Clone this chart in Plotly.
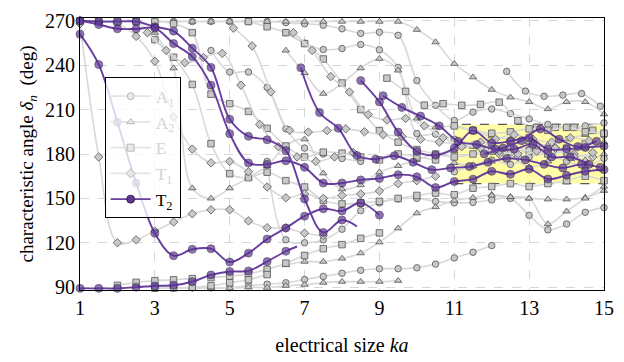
import numpy as np
import plotly.graph_objects as go

# ---------------- data ----------------
# each gray curve: (symbol, start ka, values every 0.5 in ka)
gray_curves = [
    # A1 (circles)
    ("circle", 3.0, [269.5, 269.5, 269.5, 269.5, 269.5, 269.5, 269.5, 268.75, 268, 267, 264.6, 261.5, 262.3, 260.2,
                     229.6, 212.9, 202.7, 208.3, 210.4, 207.3, 203.7, 200, 198, 199, 201]),
    ("circle", 6.5, [262, 254.8, 250.6, 251.25, 254, 250.4, 238.5, 193.8, 193.4, 190, 186, 182, 181, 183, 180, 182, 185, 192.7]),
    ("circle", 4.5, [250, 235.4, 235.4, 225, 197, 184, 180, 177, 175]),
    ("circle", 6.0, [175, 122, 120, 122, 129.2, 141.7, 147, 149.6, 150, 148, 147, 147.3, 149, 150, 138.6, 128.75, 132.7, 140.6, 143.75]),
    ("circle", 3.0, [89.5, 89.5, 89.5, 89.5, 89.6, 91, 92, 93, 95.2, 97.3, 99.4, 101.4, 102.5, 102.5, 103.1, 105.6, 109.8, 113.6, 118.1]),
    ("circle", 12.4, [235.8, 222.5, 219, 219.8, 220.8, 212.3]),
    ("circle", 11.0, [168, 172, 176, 173, 178, 180, 175, 172, 177]),
    # A2 (triangles)
    ("triangle-up", 3.5, [269.5] * 13 + [264, 255.6, 241, 231.9, 223.5, 218.3, 215.2, 210.4, 215.2, 215.2, 206.9]),
    ("triangle-up", 6.5, [250, 234.8, 220.8, 227.7, 238, 244.4, 236.5, 204, 198, 199, 195, 192, 190, 188, 186, 190, 193, 195]),
    ("triangle-up", 3.0, [262, 238, 156.9, 150, 156.9, 164, 172, 185.4, 190, 167, 156.25, 159, 167.7, 172, 176, 180, 182, 185,
                          181, 178, 183, 186, 181, 184, 188]),
    ("triangle-up", 4.0, [89.3, 89.3, 89.3, 90, 89.7, 91, 91.7, 93.1, 93.75, 93.75, 93.75, 94.4]),
    ("triangle-up", 6.5, [105, 107.3, 107.3, 109.4, 113, 120.4, 129.8, 140, 144.2, 148.6, 150.5, 152.5, 151, 150, 149.4, 149.4, 150.6, 155.2]),
    ("triangle-up", 12.0, [152, 151, 150, 132.7, 141.25, 150, 158]),
    ("triangle-up", 11.0, [174, 172, 175, 178, 171, 175, 179, 176, 180]),
    # E (squares)
    ("square", 1.0, [270, 270, 270, 269.5, 257.3, 245.4, 227, 187, 166.7, 164, 167.7, 162, 157.7, 148.6, 146.25, 146.9, 148,
                     150, 152, 153.6, 152.5, 156.9, 158, 160, 158, 160, 162, 165, 162]),
    ("square", 3.0, [269.5, 268, 262, 220.4, 214, 208.75, 197.3, 185.4, 178, 181.25, 180.6, 178, 176, 180, 178, 176]),
    ("square", 9.2, [231.25, 222.3, 213, 214, 212.9, 213.5, 215, 202.5, 198, 198, 198, 196]),
    ("square", 5.5, [269.5, 266, 262, 254.6, 244.2, 228, 210, 195.8, 188, 183, 180, 178, 180, 183, 185, 182, 180, 184, 187]),
    ("square", 2.0, [91.25, 93.3, 94.4, 95, 95.8, 96.5, 97.5, 99, 102, 106.25, 111.4, 116, 118.75, 123, 126.7]),
    ("square", 3.0, [89.3, 89.5, 90, 91, 93, 95, 98.5]),
    ("square", 11.0, [199, 196, 194, 195, 197, 196, 198, 195, 194]),
    # T1 (diamonds)
    ("diamond", 1.0, [268, 178, 120, 122, 128, 134, 139.6, 142.3, 142.3, 134.8, 130.2, 130, 126.5, 125]),
    ("diamond", 1.5, [269.5, 268, 259.5, 242.7, 205, 183.3, 174, 175, 168, 157.7, 150.4, 153, 150, 152, 153, 155, 160, 162, 165]),
    ("diamond", 2.8, [262, 250, 241.7, 245.2, 248, 226.5, 200, 185, 178, 175, 178, 181]),
    ("diamond", 5.1, [265, 253, 222, 196, 194.8, 195.8, 197, 195, 193, 192, 190, 188, 187, 186, 190, 193, 190, 188, 191, 189]),
    ("diamond", 6.7, [262, 250, 232.3, 221.9, 206.7, 203, 204, 199, 191, 186, 184, 180, 178, 182, 184, 180, 178]),
    ("diamond", 11.2, [185, 188, 182, 180, 186, 184, 178, 181]),
]

# T2 curves: (start ka, values every 0.5, optional unmarked tail (ka, deg))
t2_curves = [
    (1.0, [261, 240.5, 201.4, 160.4, 126.5, 111.3, 115.6, 116, 107, 113, 122.5, 130, 138, 143, 141.5, 147, 138.7], None),
    (1.0, [89.2, 89.2, 89.2, 90, 90.8, 91.3, 93.7, 98.3, 100.6, 101, 107.3, 114.3], (6.8, 117.5)),
    (1.0, [270, 269.5, 269.5, 269.5, 266, 263, 251.5, 238.5, 203.5, 192, 189.6, 182.3, 149.6, 127, 135.4], (8.4, 131)),
    (1.0, [270, 267.5, 264.6, 264.5, 265, 254.6, 245.8, 226.5, 193.75, 174, 173, 175.4, 171, 160.4, 160.4, 162.5,
           163.5, 166, 164.6, 157.3, 161.4, 163, 168.3, 166.3, 169.8, 163.1, 165.6, 168.3, 169.4], None),
    (6.9, [238.3, 208, 197.4, 179, 176.5, 178.8, 174.4, 169.4, 170.6, 171.5, 174.4, 177, 176, 173, 170.6, 173, 171], None),
    (8.5, [229.6, 215.2, 194.8, 181.7, 179.2, 184, 195.8, 187.5, 188.6, 191, 183.3, 183.3, 184.4, 185.4], None),
    (9.1, [219.4, 211.5, 205.6, 199, 188.6, 186.4, 183.3, 183.3, 186.4, 178, 178, 173], None),
    (11.8, [180, 184, 189, 196.9, 190, 185, 188.6], None),
]

legend_names = ["A<sub>1</sub>", "A<sub>2</sub>", "E", "T<sub>1</sub>", "T<sub>2</sub>"]
legend_symbols = ["circle", "triangle-up", "square", "diamond", "circle"]
x_ticks = [1, 3, 5, 7, 9, 11, 13, 15]
y_ticks = [90, 120, 150, 180, 210, 240, 270]
box_ka = [11, 15]
box_deg = [160, 200]

# ---------------- styles ----------------
GRAY_LINE = "rgb(216,216,216)"
GRAY_FILL = "rgb(200,200,200)"
GRAY_EDGE = "rgb(85,85,85)"
PURPLE_LINE = "rgb(104,62,160)"
PURPLE_FILL = "rgb(94,56,148)"
PURPLE_EDGE = "rgb(40,24,64)"
FONT = "Liberation Serif"

fig = go.Figure()

for sym, x0, ys in gray_curves:
    xs = x0 + 0.5 * np.arange(len(ys))
    fig.add_trace(go.Scatter(
        x=xs, y=ys, mode="lines+markers", showlegend=False, cliponaxis=False,
        line=dict(color=GRAY_LINE, width=1.6, shape="spline", smoothing=1.0),
        marker=dict(symbol=sym, size=6.5, color=GRAY_FILL, line=dict(color=GRAY_EDGE, width=0.8)),
        hoverinfo="skip"))

for x0, ys, tail in t2_curves:
    xs = list(x0 + 0.5 * np.arange(len(ys)))
    yv = list(ys)
    sizes = [8] * len(ys)
    if tail is not None:
        xs.append(tail[0]); yv.append(tail[1]); sizes.append(0)
    fig.add_trace(go.Scatter(
        x=xs, y=yv, mode="lines+markers", showlegend=False, cliponaxis=False,
        line=dict(color=PURPLE_LINE, width=1.9, shape="spline", smoothing=1.0),
        marker=dict(symbol="circle", size=sizes, color=PURPLE_FILL, line=dict(color=PURPLE_EDGE, width=0.8)),
        hoverinfo="skip"))

# legend entries
for i, (nm, sym) in enumerate(zip(legend_names, legend_symbols)):
    if i < 4:
        label = '<span style="color:#d4d4d4">' + nm + '</span>'
        fig.add_trace(go.Scatter(
            x=[None], y=[None], mode="lines+markers", name=label,
            line=dict(color="rgb(228,228,228)", width=1.6),
            marker=dict(symbol=sym, size=7, color="rgb(232,232,232)", line=dict(color="rgb(170,170,170)", width=0.8))))
    else:
        fig.add_trace(go.Scatter(
            x=[None], y=[None], mode="lines+markers", name=nm,
            line=dict(color=PURPLE_LINE, width=1.9),
            marker=dict(symbol=sym, size=8, color=PURPLE_FILL, line=dict(color=PURPLE_EDGE, width=0.8))))

fig.add_shape(type="rect", x0=box_ka[0], x1=box_ka[1], y0=box_deg[0], y1=box_deg[1],
              xref="x", yref="y", layer="below",
              fillcolor="rgb(255,253,168)", line=dict(color="rgb(90,90,90)", width=1.3, dash="dash"))

fig.update_layout(
    width=624, height=362,
    margin=dict(l=80, r=18, t=10, b=58),
    paper_bgcolor="white", plot_bgcolor="white",
    font=dict(family=FONT, size=20, color="black"),
    showlegend=True,
    legend=dict(x=0.047, y=0.782, xanchor="left", yanchor="top",
                bgcolor="rgba(255,255,255,0.78)", bordercolor="black", borderwidth=1,
                font=dict(family=FONT, size=17.5, color="black"),
                itemwidth=40, tracegroupgap=0),
)
fig.update_xaxes(range=[1, 15], tickvals=x_ticks, ticktext=[str(v) for v in x_ticks],
                 showgrid=True, gridcolor="rgb(215,215,215)", griddash="dash", gridwidth=1,
                 showline=True, linecolor="black", linewidth=1.2, mirror=True,
                 ticks="", zeroline=False, tickfont=dict(family=FONT, size=20),
                 title=dict(text="electrical size <i>ka</i>", font=dict(family=FONT, size=20), standoff=19))
fig.update_yaxes(range=[88.1, 271.9], tickvals=y_ticks, ticktext=[str(v) for v in y_ticks],
                 showgrid=True, gridcolor="rgb(215,215,215)", griddash="dash", gridwidth=1,
                 showline=True, linecolor="black", linewidth=1.2, mirror=True,
                 ticks="", zeroline=False, tickfont=dict(family=FONT, size=20),
                 title=dict(text="characteristic angle <i>δ<sub>n</sub></i>  (deg)", font=dict(family=FONT, size=19), standoff=6))

fig.write_html("out.html")
